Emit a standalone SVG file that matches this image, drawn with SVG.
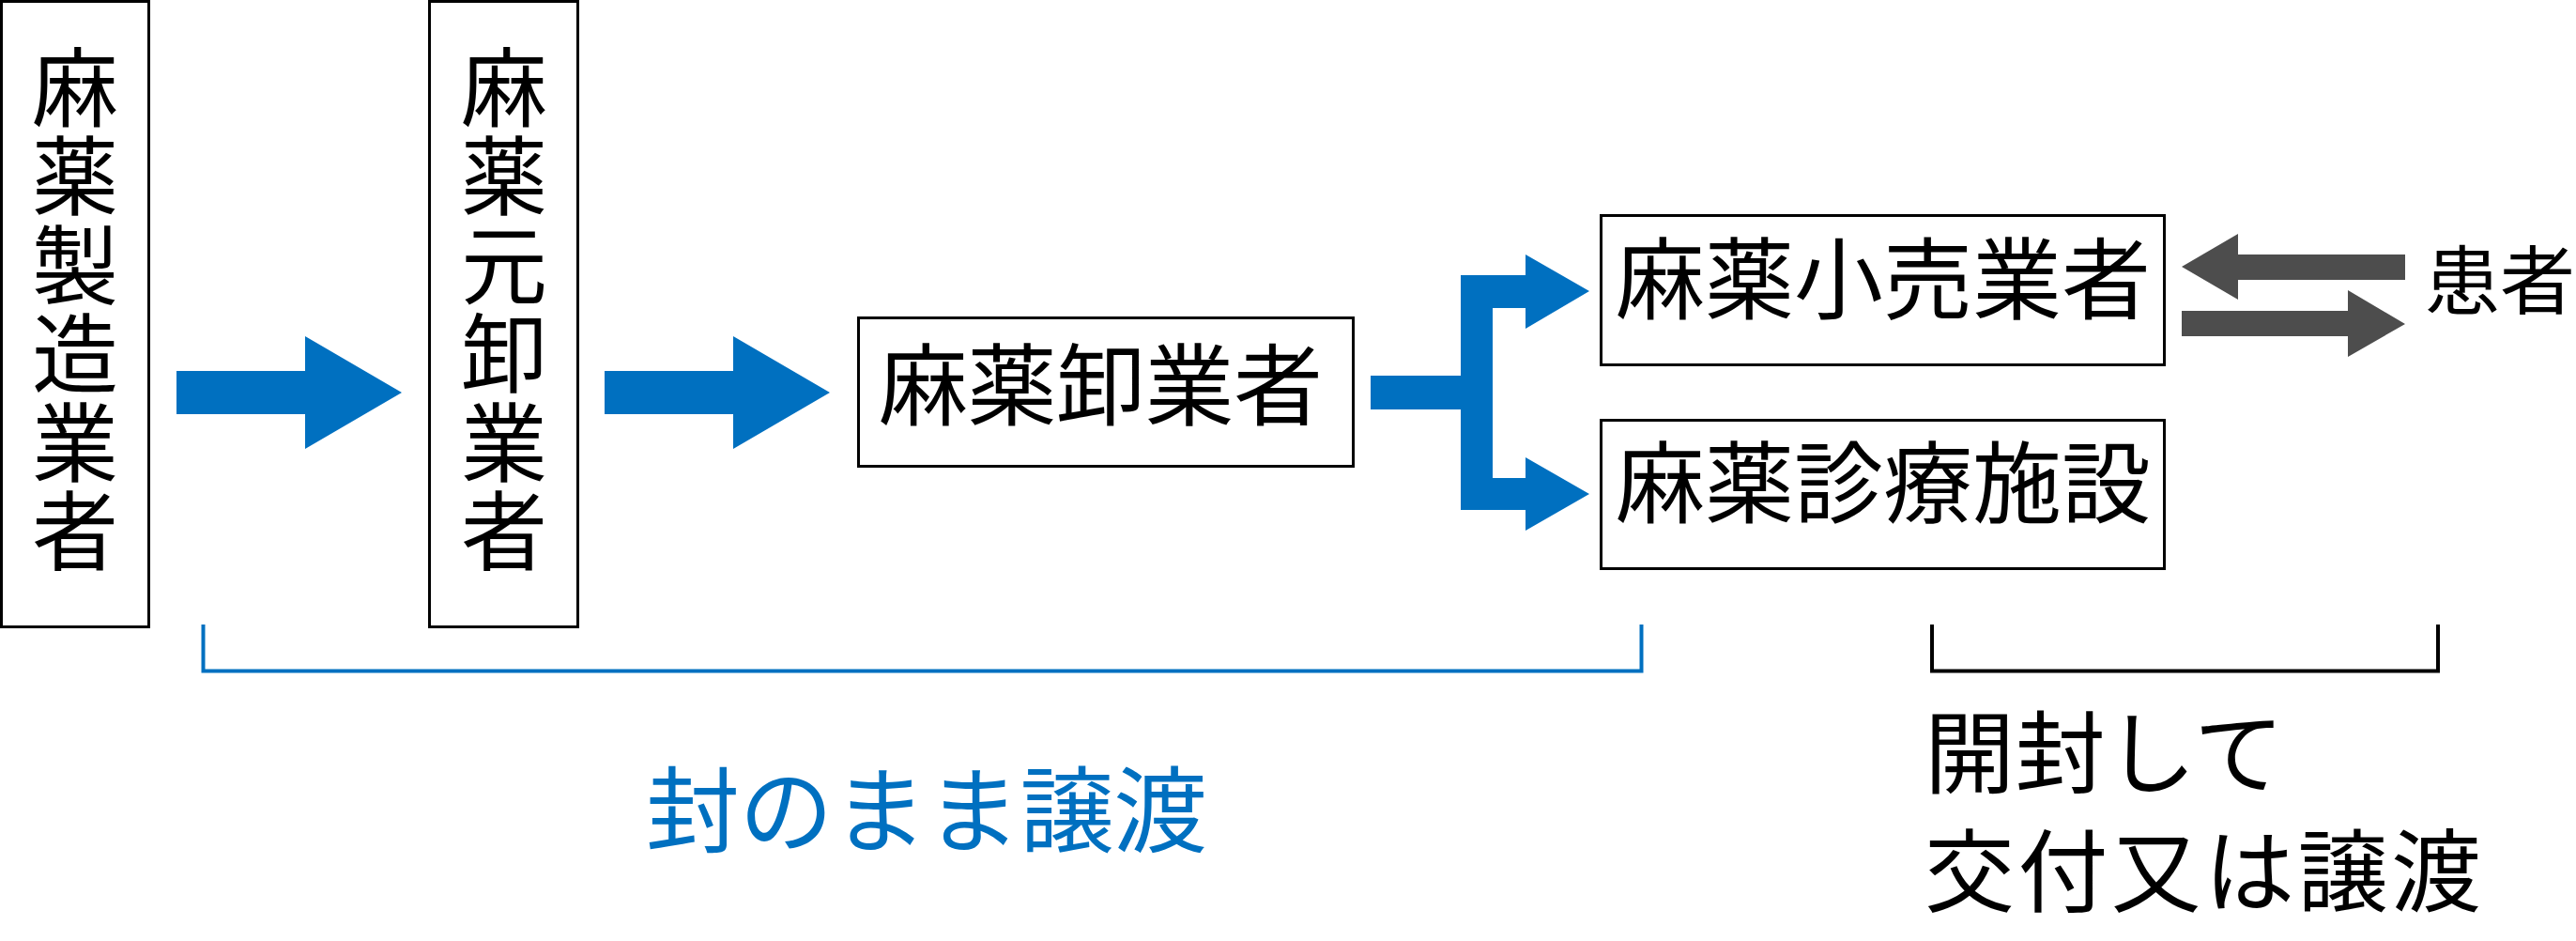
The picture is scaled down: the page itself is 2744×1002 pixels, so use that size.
<svg xmlns="http://www.w3.org/2000/svg" width="2744" height="1002" viewBox="0 0 2744 1002">
<style>
text{font-family:"Noto Sans CJK JP","Noto Sans CJK SC",sans-serif;fill:#000}
.box{fill:#fff;stroke:#000;stroke-width:3}
.v{font-size:92px;writing-mode:vertical-rl;letter-spacing:2.5px}
.h{font-size:95px}
.blue{fill:#0070c0}
.gray{fill:#4d4d4d}
</style>
<rect width="2744" height="1002" fill="#fff"/>
<g id="n1">
<rect class="box" x="1.5" y="1.5" width="157" height="666"/>
<text class="v" x="80" y="47">麻薬製造業者</text>
</g>
<g id="n2">
<rect class="box" x="457.5" y="1.5" width="158" height="666"/>
<text class="v" x="537" y="47">麻薬元卸業者</text>
</g>
<g id="n3">
<rect class="box" x="914.5" y="338.5" width="527" height="158"/>
<text class="h" x="936" y="446" textLength="473">麻薬卸業者</text>
</g>
<g id="n4">
<rect class="box" x="1705.5" y="229.5" width="600" height="159"/>
<text class="h" x="1721" y="333" textLength="570">麻薬小売業者</text>
</g>
<g id="n5">
<rect class="box" x="1705.5" y="447.5" width="600" height="158"/>
<text class="h" x="1721" y="550" textLength="570">麻薬診療施設</text>
</g>
<g id="n6">
<text x="2583" y="328" style="font-size:80px" textLength="160">患者</text>
</g>
<g id="connectors">
<polygon class="blue" points="188,395 325,395 325,358 428,418 325,478 325,441 188,441"/>
<polygon class="blue" points="644,395 781,395 781,358 884,418 781,478 781,441 644,441"/>
<polygon class="blue" points="1460,400 1556,400 1556,293 1625,293 1625,271 1693,310 1625,350 1625,328 1590,328 1590,509 1625,509 1625,487 1693,526 1625,565 1625,543 1556,543 1556,436 1460,436"/>
<polygon class="gray" points="2324,284 2384,249 2384,271 2562,271 2562,298 2384,298 2384,319"/>
<polygon class="gray" points="2324,331 2501,331 2501,309 2562,345 2501,380 2501,358 2324,358"/>
<path d="M216.5,665 V714.5 H1748.5 V665" fill="none" stroke="#0070c0" stroke-width="4"/>
<path d="M2058,665 V714.5 H2597 V665" fill="none" stroke="#000" stroke-width="4"/>
</g>
<g id="labels">
<text class="blue" x="688" y="900" style="font-size:100px" textLength="598">封のまま譲渡</text>
<text x="2050" y="837" style="font-size:96px" textLength="383">開封して</text>
<text x="2050" y="963" style="font-size:96px" textLength="593">交付又は譲渡</text>
</g>
</svg>
